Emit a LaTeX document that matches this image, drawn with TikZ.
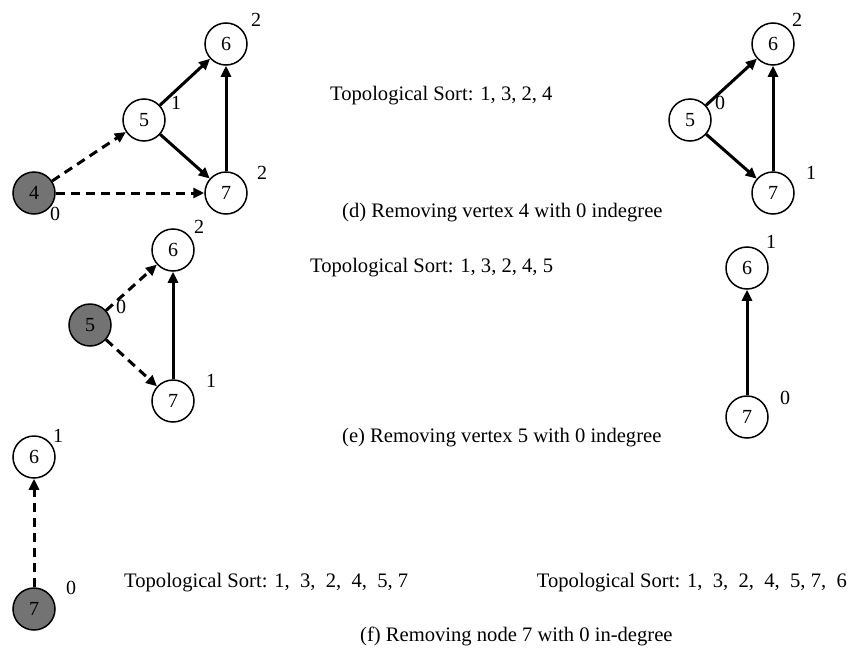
\documentclass[tikz,border=0pt]{standalone}
\usepackage{fontspec}
\setmainfont{Liberation Serif}
\usetikzlibrary{arrows.meta}
\begin{document}
\begin{tikzpicture}[x=1pt,y=-1pt,
  vtx/.style={circle,draw,line width=1.5pt,minimum size=42pt,inner sep=0pt,font=\fontsize{20}{24}\selectfont},
  gvtx/.style={vtx,fill=black!55},
  lbl/.style={font=\fontsize{20}{24}\selectfont,inner sep=0pt},
  txt/.style={font=\fontsize{20.6}{24}\selectfont,inner sep=0pt},
  sedge/.style={line width=3pt,-{Triangle[length=11pt,width=10pt]}},
  dedge/.style={sedge,dash pattern=on 9pt off 6pt}]
\useasboundingbox (0,0) rectangle (848,653);
% (top-left)
\node[vtx] (a6) at (226,44) {6};
\node[vtx] (a5) at (144,120) {5};
\node[vtx] (a7) at (226,193) {7};
\node[gvtx] (a4) at (34,193) {4};
\node[lbl] (la6) at (256,20) {2};
\node[lbl] (la5) at (176,103) {1};
\node[lbl] (la7) at (262,173) {2};
\node[lbl] (la4) at (55,214) {0};
\draw[sedge] (a5) -- (a6);
\draw[sedge] (a5) -- (a7);
\draw[sedge] (a7) -- (a6);
\draw[dedge] (a4) -- (a5);
\draw[dedge] (a4) -- (a7);
% (top-right)
\node[vtx] (b6) at (773,44) {6};
\node[vtx] (b5) at (690,120) {5};
\node[vtx] (b7) at (773,193) {7};
\node[lbl] (lb6) at (797,20) {2};
\node[lbl] (lb5) at (720,103) {0};
\node[lbl] (lb7) at (811,173) {1};
\draw[sedge] (b5) -- (b6);
\draw[sedge] (b5) -- (b7);
\draw[sedge] (b7) -- (b6);
\node[txt,anchor=west] (t1) at (330,96) {Topological Sort: 1, 3, 2, 4};
\node[txt,anchor=west] (c1) at (342,213) {(d) Removing vertex 4 with 0 indegree};
% (middle-left)
\node[vtx] (c6) at (173,250) {6};
\node[gvtx] (c5) at (90,325) {5};
\node[vtx] (c7) at (173,401) {7};
\node[lbl] (lc6) at (199,227) {2};
\node[lbl] (lc5) at (121,307) {0};
\node[lbl] (lc7) at (211,381) {1};
\draw[dedge] (c5) -- (c6);
\draw[dedge] (c5) -- (c7);
\draw[sedge] (c7) -- (c6);
\node[txt,anchor=west] (t2) at (310,268) {Topological Sort: 1, 3, 2, 4, 5};
\node[txt,anchor=west] (c2) at (342,438) {(e) Removing vertex 5 with 0 indegree};
% (middle-right)
\node[vtx] (d6) at (747,268) {6};
\node[vtx] (d7) at (747,417) {7};
\node[lbl] (ld6) at (771,242) {1};
\node[lbl] (ld7) at (785,398) {0};
\draw[sedge] (d7) -- (d6);
% (bottom-left)
\node[vtx] (e6) at (34,457) {6};
\node[gvtx] (e7) at (34,609) {7};
\node[lbl] (le6) at (58,436) {1};
\node[lbl] (le7) at (71,588) {0};
\draw[dedge] (e7) -- (e6);
\node[txt,anchor=west] (t3) at (124,583) {Topological Sort: 1,\ \ 3,\ \ 2,\ \ 4,\ \ 5, 7};
\node[txt,anchor=east] (t4) at (847,583) {Topological Sort: 1,\ \ 3,\ \ 2,\ \ 4,\ \ 5, 7,\ \ 6};
\node[txt,anchor=west] (c3) at (360,636) {(f) Removing node 7 with 0 in-degree};
\end{tikzpicture}
\end{document}
